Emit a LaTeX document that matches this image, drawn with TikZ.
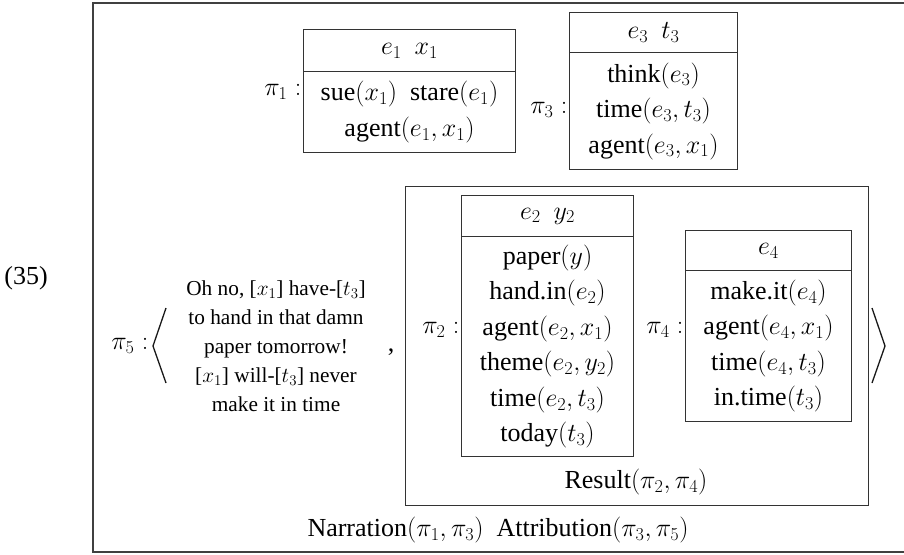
\RequirePackage{fix-cm}
\documentclass[tikz,border=0pt]{standalone}
\usepackage[no-math]{fontspec}
\setmainfont{Liberation Serif}
\newcommand\bigfs{\fontsize{26}{35.5}\selectfont}
\newcommand\smallfs{\fontsize{21.3}{29}\selectfont}
\tikzset{
  drsbox/.style={draw=black!80, line width=1pt, inner sep=0pt, anchor=north west,
    align=center, font=\bigfs},
  lbl/.style={inner sep=1.5pt, font=\bigfs, anchor=east},
  txt/.style={inner sep=0pt, font=\bigfs},
  frame/.style={draw=black!75, line width=1.2pt},
  brack/.style={draw=black!90, line width=1.3pt},
}
\begin{document}
\begin{tikzpicture}[x=1pt,y=-1pt]
\useasboundingbox (0,0) rectangle (904,554);
% outer frame (right side outside the picture)
\coordinate (ftr) at (904,3);
\coordinate (ftl) at (93,3);
\coordinate (fbl) at (93,552);
\coordinate (fbr) at (904,552);
\draw[frame] (ftr) -- (ftl) -- (fbl) -- (fbr);
\node[txt] (num) at (26,278) {(35)};
% pi1
\node[drsbox, minimum width=212pt, minimum height=42pt] (h1) at (303,29) {$e_1\ \ x_1$};
\node[drsbox, minimum width=212pt, minimum height=81pt] (b1) at (303,71)
  {sue$(x_1)$\ \ stare$(e_1)$\\ agent$(e_1,x_1)$};
\node[lbl] (l1) at (303,92) {$\pi_1:$};
% pi3
\node[drsbox, minimum width=168pt, minimum height=40pt] (h3) at (569,12) {$e_3\ \ t_3$};
\node[drsbox, minimum width=168pt, minimum height=117pt] (b3) at (569,52)
  {think$(e_3)$\\ time$(e_3,t_3)$\\ agent$(e_3,x_1)$};
\node[lbl] (l3) at (569,110) {$\pi_3:$};
% pi5
\node[lbl] (l5) at (150,346) {$\pi_5:$};
\coordinate (la1) at (166,308);
\coordinate (la2) at (153,346);
\coordinate (la3) at (166,383);
\draw[brack] (la1) -- (la2) -- (la3);
\node[txt, font=\smallfs, align=center] (t5) at (276,346)
  {Oh no, {[}$x_1${]} have-{[}$t_3${]}\\ to hand in that damn\\ paper tomorrow!\\ {[}$x_1${]} will-{[}$t_3${]} never\\ make it in time};
\node[txt] (cm) at (391,352) {,};
% result box
\node[drsbox, minimum width=463pt, minimum height=319pt] (rb) at (405,186) {};
% pi2
\node[drsbox, minimum width=172pt, minimum height=41pt] (h2) at (461,195) {$e_2\ \ y_2$};
\node[drsbox, minimum width=172pt, minimum height=220pt] (b2) at (461,236)
  {paper$(y)$\\ hand.in$(e_2)$\\ agent$(e_2,x_1)$\\ theme$(e_2,y_2)$\\ time$(e_2,t_3)$\\ today$(t_3)$};
\node[lbl] (l2) at (461,330) {$\pi_2:$};
% pi4
\node[drsbox, minimum width=166pt, minimum height=40pt] (h4) at (685,230) {$e_4$};
\node[drsbox, minimum width=166pt, minimum height=151pt] (b4) at (685,270)
  {make.it$(e_4)$\\ agent$(e_4,x_1)$\\ time$(e_4,t_3)$\\ in.time$(t_3)$};
\node[lbl] (l4) at (685,330) {$\pi_4:$};
\coordinate (ra1) at (872,308);
\coordinate (ra2) at (885,346);
\coordinate (ra3) at (872,383);
\draw[brack] (ra1) -- (ra2) -- (ra3);
\node[txt] (res) at (636,482) {Result$(\pi_2,\pi_4)$};
\node[txt] (nar) at (498,530) {Narration$(\pi_1,\pi_3)$\ \ Attribution$(\pi_3,\pi_5)$};
\end{tikzpicture}
\end{document}
